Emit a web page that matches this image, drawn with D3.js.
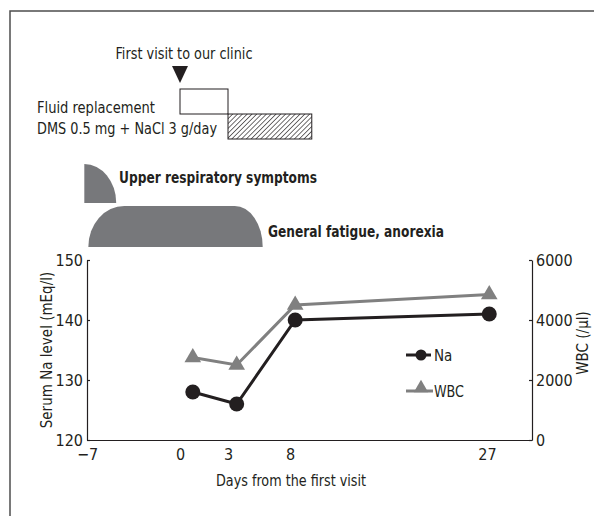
<!DOCTYPE html>
<html>
<head>
<meta charset="utf-8">
<script src="https://cdn.jsdelivr.net/npm/d3@7"></script>
<style>
  body { margin: 0; background: #fff; }
  svg text { font-family: "Liberation Sans Narrow", "DejaVu Sans Condensed", "Roboto Condensed", "Liberation Sans", sans-serif; fill: #231f20; }
</style>
</head>
<body>
<div class="chart"></div>
<script>
// data
const days = [0.8, 3.7, 8.5, 27.2];
const naValues = [128, 126, 140, 141];
const wbcValues = [2750, 2500, 4500, 4850];
const xTicks = [-7, 0, 3, 8, 27];
const naTicks = [120, 130, 140, 150];
const wbcTicks = [0, 2000, 4000, 6000];

// timeline bars (days)
const firstVisitDay = 0;
const fluidPeriod = [0, 3];
const dmsPeriod = [3, 10.1];
const upperRespPeriod = [-7.2, -4.8];
const fatiguePeriod = [-6.9, 5.8];

const width = 594;
const height = 516;

const svg = d3.select('.chart')
    .append('svg')
    .attr('width', width)
    .attr('height', height)

// the axis is not linear in the original, so a piecewise scale
const x = d3.scaleLinear()
    .domain([-7, 0, 3, 8, 27, 31])
    .range([87, 180, 228, 290, 487, 532])

const yNa = d3.scaleLinear().domain([120, 150]).range([440, 260])
const yWbc = d3.scaleLinear().domain([0, 6000]).range([440, 260])

// frame
svg.append('path')
    .attr('d', 'M10,516V11H594')
    .attr('fill', 'none')
    .attr('stroke', '#4d4d4d')
    .attr('stroke-width', 1.5)

// hatch pattern
const defs = svg.append('defs')
defs.append('pattern')
    .attr('id', 'hatch')
    .attr('patternUnits', 'userSpaceOnUse')
    .attr('width', 3.4)
    .attr('height', 3.4)
    .attr('patternTransform', 'rotate(45)')
    .append('line')
    .attr('x1', 0).attr('y1', 0)
    .attr('x2', 0).attr('y2', 3.4)
    .attr('stroke', '#231f20')
    .attr('stroke-width', 1.3)

// top annotations
svg.append('text')
    .attr('x', 184)
    .attr('y', 59)
    .attr('text-anchor', 'middle')
    .attr('font-size', 15)
    .attr('textLength', 137)
    .attr('lengthAdjust', 'spacingAndGlyphs')
    .text('First visit to our clinic')

const tx = x(firstVisitDay)
svg.append('path')
    .attr('d', `M${tx - 8},66L${tx + 8},66L${tx},83Z`)
    .attr('fill', '#231f20')

svg.append('rect')
    .attr('x', x(fluidPeriod[0]))
    .attr('y', 89)
    .attr('width', x(fluidPeriod[1]) - x(fluidPeriod[0]))
    .attr('height', 25)
    .attr('fill', 'none')
    .attr('stroke', '#231f20')
    .attr('stroke-width', 1)

svg.append('rect')
    .attr('x', x(dmsPeriod[0]))
    .attr('y', 114)
    .attr('width', x(dmsPeriod[1]) - x(dmsPeriod[0]))
    .attr('height', 25)
    .attr('fill', 'url(#hatch)')
    .attr('stroke', '#231f20')
    .attr('stroke-width', 1)

svg.append('text')
    .attr('x', 37)
    .attr('y', 113)
    .attr('font-size', 15)
    .attr('textLength', 118)
    .attr('lengthAdjust', 'spacingAndGlyphs')
    .text('Fluid replacement')

svg.append('text')
    .attr('x', 37)
    .attr('y', 134)
    .attr('font-size', 15)
    .attr('textLength', 180)
    .attr('lengthAdjust', 'spacingAndGlyphs')
    .text('DMS 0.5 mg + NaCl 3 g/day')

// symptom shapes
const u0 = x(upperRespPeriod[0]), u1 = x(upperRespPeriod[1])
svg.append('path')
    .attr('d', `M${u0},203V164A${u1 - u0},39 0 0 1 ${u1},203Z`)
    .attr('fill', '#77787b')

svg.append('text')
    .attr('x', 119)
    .attr('y', 183)
    .attr('font-size', 16)
    .attr('font-weight', 'bold')
    .attr('textLength', 198)
    .attr('lengthAdjust', 'spacingAndGlyphs')
    .text('Upper respiratory symptoms')

const f0 = x(fatiguePeriod[0]), f1 = x(fatiguePeriod[1])
svg.append('path')
    .attr('d', `M${f0},247A36,41 0 0 1 ${f0 + 36},206H${f1 - 28}A28,41 0 0 1 ${f1},247Z`)
    .attr('fill', '#77787b')

svg.append('text')
    .attr('x', 268)
    .attr('y', 237)
    .attr('font-size', 16)
    .attr('font-weight', 'bold')
    .attr('textLength', 176)
    .attr('lengthAdjust', 'spacingAndGlyphs')
    .text('General fatigue, anorexia')

// axes
const xAxis = svg.append('g')
    .attr('transform', 'translate(0,440)')
    .call(d3.axisBottom(x).tickValues(xTicks).tickSize(0).tickPadding(9)
        .tickFormat(d => d < 0 ? '\u2212' + Math.abs(d) : d))

const leftAxis = svg.append('g')
    .attr('transform', 'translate(87,0)')
    .call(d3.axisLeft(yNa).tickValues(naTicks).tickSizeInner(-3).tickSizeOuter(0).tickPadding(4))

const rightAxis = svg.append('g')
    .attr('transform', 'translate(532,0)')
    .call(d3.axisRight(yWbc).tickValues(wbcTicks).tickSizeInner(-3).tickSizeOuter(0).tickPadding(4)
        .tickFormat(d3.format('d')))

svg.selectAll('.domain, .tick line')
    .attr('stroke', '#231f20')
    .attr('stroke-width', 1.2)
svg.selectAll('.tick text')
    .attr('font-size', 16)
    .attr('font-family', null)
    .attr('fill', '#231f20')

svg.append('text')
    .attr('x', 291)
    .attr('y', 486)
    .attr('text-anchor', 'middle')
    .attr('font-size', 15)
    .attr('textLength', 150)
    .attr('lengthAdjust', 'spacingAndGlyphs')
    .text('Days from the first visit')

svg.append('text')
    .attr('transform', 'translate(52,350) rotate(-90)')
    .attr('text-anchor', 'middle')
    .attr('font-size', 15)
    .text('Serum Na level (mEq/l)')

svg.append('text')
    .attr('transform', 'translate(588,343) rotate(-90)')
    .attr('text-anchor', 'middle')
    .attr('font-size', 15)
    .text('WBC (/\u00b5l)')

// WBC series
const wbcLine = d3.line()
    .x((d, i) => x(days[i]))
    .y(d => yWbc(d))

svg.append('path')
    .datum(wbcValues)
    .attr('d', wbcLine)
    .attr('fill', 'none')
    .attr('stroke', '#808080')
    .attr('stroke-width', 3)

const tri = d3.symbol().type(d3.symbolTriangle).size(120)
svg.selectAll('.wbc')
    .data(wbcValues)
    .enter()
    .append('path')
    .attr('transform', (d, i) => `translate(${x(days[i])},${yWbc(d)})`)
    .attr('d', tri)
    .attr('fill', '#808080')

// Na series
const naLine = d3.line()
    .x((d, i) => x(days[i]))
    .y(d => yNa(d))

svg.append('path')
    .datum(naValues)
    .attr('d', naLine)
    .attr('fill', 'none')
    .attr('stroke', '#231f20')
    .attr('stroke-width', 3)

svg.selectAll('.na')
    .data(naValues)
    .enter()
    .append('circle')
    .attr('cx', (d, i) => x(days[i]))
    .attr('cy', d => yNa(d))
    .attr('r', 7.5)
    .attr('fill', '#231f20')

// legend
const legend = svg.append('g').attr('transform', 'translate(406,0)')
legend.append('line')
    .attr('x1', 0).attr('x2', 25).attr('y1', 355).attr('y2', 355)
    .attr('stroke', '#231f20').attr('stroke-width', 3)
legend.append('circle')
    .attr('cx', 15).attr('cy', 355).attr('r', 5.5)
    .attr('fill', '#231f20')
legend.append('text')
    .attr('x', 28).attr('y', 361)
    .attr('font-size', 15)
    .text('Na')

legend.append('line')
    .attr('x1', 0).attr('x2', 27).attr('y1', 391).attr('y2', 391)
    .attr('stroke', '#808080').attr('stroke-width', 3)
legend.append('path')
    .attr('transform', 'translate(15,388)')
    .attr('d', d3.symbol().type(d3.symbolTriangle).size(90))
    .attr('fill', '#808080')
legend.append('text')
    .attr('x', 28).attr('y', 397)
    .attr('font-size', 15)
    .attr('textLength', 30)
    .attr('lengthAdjust', 'spacingAndGlyphs')
    .text('WBC')
</script>
</body>
</html>
